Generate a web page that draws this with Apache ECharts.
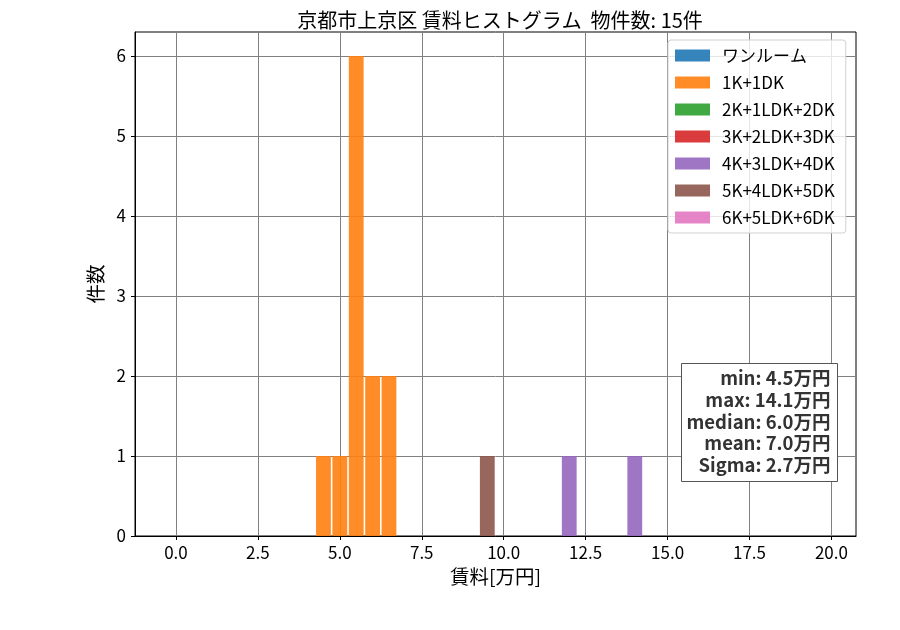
<!DOCTYPE html>
<html lang="ja">
<head>
	<meta charset="UTF-8">
	<title>京都市上京区 賃料ヒストグラム</title>
	<script src="https://cdn.jsdelivr.net/npm/echarts@6/dist/echarts.min.js"></script>
	<style>
		* { margin: 0; padding: 0; }
		#container { width: 900px; height: 630px; background: #fff; }
	</style>
</head>
<body>
<div id="container"></div>
<script type="text/javascript">
	var FONT = '"Noto Sans CJK JP", "Noto Sans", sans-serif';

	// 間取りカテゴリ
	var layouts = ['ワンルーム', '1K+1DK', '2K+1LDK+2DK', '3K+2LDK+3DK', '4K+3LDK+4DK', '5K+4LDK+5DK', '6K+5LDK+6DK'];
	var colors = ['#1f77b4', '#ff7f0e', '#2ca02c', '#d62728', '#9467bd', '#8c564b', '#e377c2'];

	// 各カテゴリのビン中心 [万円] と件数
	var binsOneRoom = [], countsOneRoom = [];
	var bins1K = [4.5, 5.0, 5.5, 6.0, 6.5], counts1K = [1, 1, 6, 2, 2];
	var bins2K = [], counts2K = [];
	var bins3K = [], counts3K = [];
	var bins4K = [12.0, 14.0], counts4K = [1, 1];
	var bins5K = [9.5], counts5K = [1];
	var bins6K = [], counts6K = [];

	var xTicks = [0, 2.5, 5, 7.5, 10, 12.5, 15, 17.5, 20];

	var statLines = ['min: 4.5万円', 'max: 14.1万円', 'median: 6.0万円', 'mean: 7.0万円', 'Sigma: 2.7万円'];

	var allBins = [binsOneRoom, bins1K, bins2K, bins3K, bins4K, bins5K, bins6K];
	var allCounts = [countsOneRoom, counts1K, counts2K, counts3K, counts4K, counts5K, counts6K];

	var myChart = echarts.init(document.getElementById('container'));

	var series = layouts.map(function (name, k) {
		var d = allBins[k].map(function (x, i) { return [x, allCounts[k][i]]; });
		return {
			name: name,
			type: 'bar',
			data: d,
			barWidth: 14.8,
			barGap: '-100%',
			itemStyle: { color: colors[k], opacity: 0.9 },
			emphasis: { disabled: true }
		};
	});

	var option = {
		animation: false,
		textStyle: { fontFamily: FONT },
		title: {
			text: '京都市上京区 賃料ヒストグラム  物件数: 15件',
			left: 495, top: 5, textAlign: 'center',
			textStyle: { fontFamily: FONT, fontSize: 20, fontWeight: 'normal', color: '#000' }
		},
		grid: {
			left: 135, right: 44, top: 32, bottom: 94,
			show: true, borderColor: '#000', borderWidth: 1
		},
		legend: {
			orient: 'vertical',
			left: 668, top: 40,
			itemWidth: 35, itemHeight: 12, itemGap: 10,
			padding: [7, 11, 7, 7],
			borderColor: '#d0d0d0', borderWidth: 1, borderRadius: 3,
			backgroundColor: 'rgba(255,255,255,0.8)',
			icon: 'rect',
			textStyle: { fontFamily: FONT, fontSize: 17, color: '#000', padding: [0, 0, 0, 7] },
			data: layouts
		},
		xAxis: {
			type: 'value',
			min: -1.25, max: 20.75,
			name: '賃料[万円]', nameLocation: 'middle', nameGap: 31,
			nameTextStyle: { fontFamily: FONT, fontSize: 19.5, color: '#000' },
			axisLine: { onZero: false, lineStyle: { color: '#000', width: 1 } },
			axisTick: { show: true, length: 4, customValues: xTicks, lineStyle: { color: '#000' } },
			axisLabel: {
				customValues: xTicks, margin: 8, fontSize: 17, color: '#000', fontFamily: FONT,
				formatter: function (v) { return v.toFixed(1); }
			},
			splitLine: { show: true, lineStyle: { color: '#808080', width: 1 } }
		},
		yAxis: {
			type: 'value',
			min: 0, max: 6.3, interval: 1,
			name: '件数', nameLocation: 'middle', nameGap: 29,
			nameTextStyle: { fontFamily: FONT, fontSize: 19.5, color: '#000' },
			axisLine: { show: true, onZero: false, lineStyle: { color: '#000', width: 1 } },
			axisTick: { show: true, length: 4, lineStyle: { color: '#000' } },
			axisLabel: { margin: 9, fontSize: 17, color: '#000', fontFamily: FONT, showMaxLabel: false },
			splitLine: { show: true, showMaxLine: false, lineStyle: { color: '#808080', width: 1 } }
		},
		graphic: [{
			type: 'group',
			left: 681, top: 363,
			children: [{
				type: 'rect',
				shape: { x: 0, y: 0, width: 156, height: 118 },
				style: { fill: '#fff', stroke: '#555', lineWidth: 1 },
				z: 100
			}, {
				type: 'text',
				x: 149, y: 4,
				style: {
					text: statLines.join('\n'),
					align: 'right',
					font: 'bold 18.5px ' + FONT,
					lineHeight: 21.7,
					fill: '#333'
				},
				z: 101
			}]
		}],
		series: series
	};

	myChart.setOption(option);
</script>
</body>
</html>
